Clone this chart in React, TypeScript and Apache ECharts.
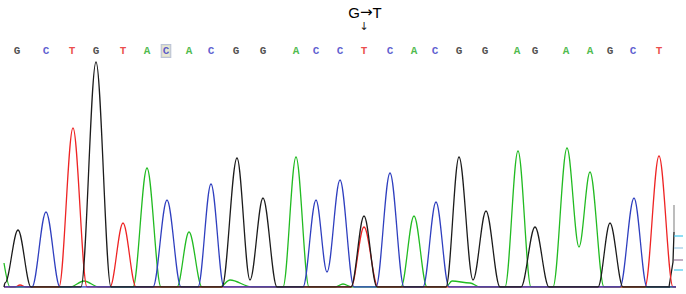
import React, { useEffect, useRef } from "react";
import * as echarts from "echarts";

// Called bases and their scan positions
const bases = ["G","C","T","G","T","A","C","A","C","G","G","A","C","C","T","C","A","C","G","G","A","G","A","A","G","C","T"];
const basePos = [17,46,72,96,123,147,166,189,211,236,263,296,316,340,364,390,414,435,459,485,517,535,566,590,610,633,659];
const highlightedBase = 6;

// Trace key points per channel: [scan position, signal]
const traceG: number[][] = [[4,0],[5,4],[18,57],[31,0],[81,0],[96,225],[111,0],[222,0],[237,129],[250,7],[263,89],[277,0],[351,0],[364,71],[377,0],[446,0],[459,130],[473,7],[486,76],[500,0],[521,0],[535,60],[549,0],[598,0],[610,64],[623,0],[670,0]];
const traceC: number[][] = [[4,0],[32,0],[46,75],[60,0],[153,0],[167,87],[181,0],[198,0],[211,103],[224,0],[303,0],[316,87],[327,15],[340,107],[354,0],[376,0],[390,114],[404,0],[423,0],[436,85],[449,0],[620,0],[634,89],[647,0],[676,0]];
const traceT: number[][] = [[4,0],[15,0],[20,2],[26,0],[59,0],[73,159],[87,0],[110,0],[123,64],[136,0],[351,0],[364,60],[378,0],[645,0],[659,131],[673,0],[676,0]];
const traceA: number[][] = [[4,24],[10,0],[70,0],[84,6],[99,0],[133,0],[147,119],[161,0],[177,0],[189,55],[202,0],[220,0],[230,7],[252,0],[283,0],[296,130],[309,0],[335,0],[343,3],[352,0],[401,0],[414,71],[427,0],[446,0],[452,6],[470,4],[480,0],[505,0],[518,136],[531,0],[553,0],[567,139],[579,40],[590,115],[604,0],[676,0]];

const channelColors = { G: "#1c1c1c", C: "#2f3fbf", T: "#ee2424", A: "#22bb22" };
const letterColors: Record<string, string> = { G: "#222222", C: "#3434c4", T: "#e61c1c", A: "#1eaa1e" };

const mutationFrom = "G";
const mutationTo = "T";
const arrowLabel = "↓";

export default function App() {
  const ref = useRef<HTMLDivElement>(null);
  useEffect(() => {
    if (!ref.current) return;
    const chart = echarts.init(ref.current, undefined, { renderer: "svg" });
    const traceSeries = (name: string, data: number[][], color: string) => ({
      name,
      type: "line",
      data,
      smooth: 0.35,
      smoothMonotone: "x",
      showSymbol: false,
      symbol: "none",
      silent: true,
      lineStyle: { color, width: 1.3 },
      z: 2,
    });
    chart.setOption({
      animation: false,
      backgroundColor: "#ffffff",
      grid: { left: 4, right: 10, top: 37, bottom: 7 },
      xAxis: { type: "value", min: 4, max: 676, show: false },
      yAxis: { type: "value", min: 0, max: 250, show: false },
      series: [
        traceSeries("A", traceA, channelColors.A),
        traceSeries("T", traceT, channelColors.T),
        traceSeries("C", traceC, channelColors.C),
        traceSeries("G", traceG, channelColors.G),
        {
          name: "bases",
          type: "scatter",
          symbolSize: 0,
          itemStyle: { color: "rgba(0,0,0,0)" },
          silent: true,
          clip: false,
          data: bases.map((b, i) => ({
            name: b,
            value: [basePos[i], 236],
            label: i === highlightedBase
              ? { color: letterColors[b], backgroundColor: "#e2e2c8", borderColor: "#aab4d0", borderWidth: 1, padding: [1, 1, 0, 1] }
              : { color: letterColors[b] },
          })),
          label: {
            show: true,
            position: [0, 0],
            align: "center",
            verticalAlign: "middle",
            formatter: (p: any) => p.name,
            fontFamily: "Liberation Mono",
            fontSize: 11,
            fontWeight: "bold",
            textBorderWidth: 0,
            textBorderColor: "transparent",
          },
          z: 5,
        },
      ],
      graphic: [
        {
          type: "text", x: 365, y: 12,
          style: {
            text: `{a|${mutationFrom}}{b|→}{a|${mutationTo}}`,
            align: "center", verticalAlign: "middle",
            rich: {
              a: { fontFamily: "Liberation Sans", fontSize: 15, color: "#111" },
              b: { fontFamily: "DejaVu Sans", fontSize: 15, color: "#111" },
            },
          },
        },
        { type: "text", x: 364, y: 26, style: { text: arrowLabel, font: "11px 'DejaVu Sans'", fill: "#222", align: "center", verticalAlign: "middle" } },
        { type: "polyline", shape: { points: [[669, 287], [673, 262], [674, 232]] }, style: { stroke: "#1c1c1c", lineWidth: 1.3, fill: null } },
        { type: "line", shape: { x1: 674, y1: 205, x2: 674, y2: 232 }, style: { stroke: "#999999", lineWidth: 1.3 } },
        { type: "line", shape: { x1: 674, y1: 236, x2: 683, y2: 236 }, style: { stroke: "#44c8ee", lineWidth: 1.2 } },
        { type: "line", shape: { x1: 674, y1: 248, x2: 683, y2: 248 }, style: { stroke: "#9cc8e4", lineWidth: 1.2 } },
        { type: "line", shape: { x1: 674, y1: 260, x2: 683, y2: 260 }, style: { stroke: "#98789c", lineWidth: 1.2 } },
        { type: "line", shape: { x1: 674, y1: 270, x2: 683, y2: 270 }, style: { stroke: "#44c8ee", lineWidth: 1.2 } },
      ],
    });
    return () => chart.dispose();
  }, []);
  return <div ref={ref} style={{ position: "fixed", left: 0, top: 0, width: 686, height: 294 }} />;
}
